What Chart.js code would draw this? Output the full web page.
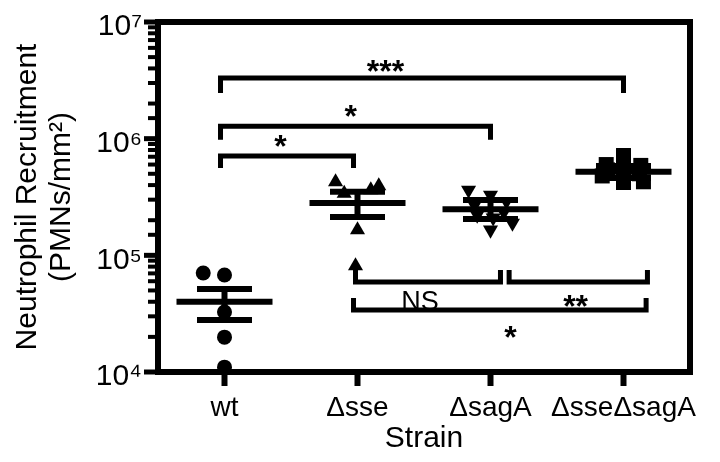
<!DOCTYPE html>
<html><head><meta charset="utf-8">
<script src="https://cdn.jsdelivr.net/npm/chart.js@4.4.1/dist/chart.umd.min.js"></script>
<style>html,body{margin:0;padding:0;background:#fff;}canvas{display:block;}</style>
</head><body>
<canvas id="c" width="720" height="462"></canvas>
<script>
const categories = ['wt', 'Δsse', 'ΔsagA', 'ΔsseΔsagA'];
const wtValues = [70600, 67800, 32700, 19900, 11000];
const wtJitter = [-0.16, 0, 0, 0, 0];
const sseValues = [425000, 393000, 363000, 340000, 165000, 81000];
const sseJitter = [-0.165, 0.16, 0.1, -0.1, 0, -0.015];
const sagAValues = [363000, 329000, 290000, 270000, 235000, 222000, 210000, 189000, 165000];
const sagAJitter = [-0.165, 0, 0.12, -0.12, 0.1, -0.1, 0.02, 0.165, 0];
const dblValues = [717000, 600000, 590000, 560000, 540000, 500000, 479000, 427000, 421000];
const dblJitter = [0, -0.13, 0.13, 0, -0.12, 0.12, -0.16, 0.15, 0];
const groupMeans = [40000, 281000, 248000, 521000];
const semUpper = [51400, 351000, 298000, 583000];
const semLower = [27900, 213000, 205000, 460000];
const yTickValues = [1e4, 1e5, 1e6, 1e7];
const yTickLabels = ['10⁴', '10⁵', '10⁶', '10⁷'];
const bracketFrom = [-0.03, -0.03, -0.03, 0.985, 2.14, 0.97];
const bracketTo = [3.0, 2.0, 0.97, 2.075, 3.18, 3.17];
const bracketLevel = [3.31e6, 1.28e6, 7.1e5, 5.9e4, 5.9e4, 3.4e4];
const bracketEnd = [2.46e6, 9.8e5, 5.6e5, 7.48e4, 7.48e4, 4.3e4];
const bracketText = ['***', '*', '*', 'NS', '**', '*'];
const bracketTextX = [1.21, 0.95, 0.42, 1.47, 2.64, 2.15];
const bracketTextY = [3.06e6, 1.26e6, 7.0e5, 3.4e4, 2.96e4, 1.6e4];

const FONT = '"Liberation Sans", Arial, Helvetica, sans-serif';
Chart.defaults.font.family = FONT;
Chart.defaults.color = '#000';

function pts(vals, jit, idx) { return vals.map((v, i) => ({x: idx + jit[i], y: v})); }

function isMajor(v) { const e = Math.log10(v); return Math.abs(e - Math.round(e)) < 1e-6; }

const decor = {
  id: 'decor',
  afterDatasetsDraw(chart) {
    const {ctx, chartArea: a, scales: {x, y}} = chart;
    const line = (x1, y1, x2, y2) => { ctx.beginPath(); ctx.moveTo(x1, y1); ctx.lineTo(x2, y2); ctx.stroke(); };
    ctx.save();
    ctx.strokeStyle = '#000'; ctx.fillStyle = '#000'; ctx.lineCap = 'butt'; ctx.lineJoin = 'miter';
    groupMeans.forEach((m, i) => {
      const px = x.getPixelForValue(i);
      const pm = y.getPixelForValue(m), pu = y.getPixelForValue(semUpper[i]), pl = y.getPixelForValue(semLower[i]);
      ctx.lineWidth = 6;
      line(px - 48, pm, px + 48, pm);
      line(px - 27.5, pu, px + 27.5, pu);
      line(px - 27.5, pl, px + 27.5, pl);
      line(px, pu, px, pl);
    });
    ctx.lineWidth = 6;
    ctx.strokeRect(a.left, a.top, a.right - a.left, a.bottom - a.top);
    y.ticks.forEach(t => {
      const py = y.getPixelForValue(t.value);
      const mj = isMajor(t.value);
      ctx.lineWidth = mj ? 5 : 4;
      line(a.left - (mj ? 14 : 10), py, a.left, py);
    });
    categories.forEach((c, i) => {
      const px = x.getPixelForValue(i);
      ctx.lineWidth = 6;
      line(px, a.bottom, px, a.bottom + 14);
    });
    ctx.lineWidth = 5;
    bracketFrom.forEach((f, i) => {
      const x1 = x.getPixelForValue(f), x2 = x.getPixelForValue(bracketTo[i]);
      const yl = y.getPixelForValue(bracketLevel[i]), ye = y.getPixelForValue(bracketEnd[i]);
      ctx.beginPath(); ctx.moveTo(x1, ye); ctx.lineTo(x1, yl); ctx.lineTo(x2, yl); ctx.lineTo(x2, ye); ctx.stroke();
    });
    ctx.textAlign = 'center'; ctx.textBaseline = 'alphabetic';
    bracketText.forEach((t, i) => {
      ctx.font = (t === 'NS' ? '27px ' : 'bold 32px ') + FONT;
      ctx.fillText(t, x.getPixelForValue(bracketTextX[i]), y.getPixelForValue(bracketTextY[i]));
    });
    ctx.restore();
  }
};

new Chart(document.getElementById('c'), {
  type: 'scatter',
  data: {
    datasets: [
      {data: pts(wtValues, wtJitter, 0), pointStyle: 'circle', pointRadius: 7.5, backgroundColor: '#000', borderWidth: 0},
      {data: pts(sseValues, sseJitter, 1), pointStyle: 'triangle', pointRadius: 8.7, backgroundColor: '#000', borderWidth: 0},
      {data: pts(sagAValues, sagAJitter, 2), pointStyle: 'triangle', rotation: 180, pointRadius: 8.7, backgroundColor: '#000', borderWidth: 0},
      {data: pts(dblValues, dblJitter, 3), pointStyle: 'rect', pointRadius: 10.6, backgroundColor: '#000', borderWidth: 0}
    ]
  },
  options: {
    responsive: false, animation: false, devicePixelRatio: 1,
    layout: {padding: {top: 22, right: 30, left: 0, bottom: 0}},
    plugins: {legend: {display: false}, tooltip: {enabled: false}},
    scales: {
      x: {
        type: 'linear', min: -0.5, max: 3.5,
        afterFit: s => { s.height = 90; s.paddingLeft = 0; s.paddingRight = 0; },
        afterBuildTicks: s => { s.ticks = categories.map((c, i) => ({value: i})); },
        grid: {display: false}, border: {display: false},
        ticks: {padding: 11, font: {size: 28}, color: '#000', maxRotation: 0, autoSkip: false,
          callback: v => categories[v] ?? ''},
        title: {display: true, text: 'Strain', font: {size: 30}, color: '#000', padding: {top: 0, bottom: 5}}
      },
      y: {
        type: 'logarithmic', min: 1e4, max: 1e7,
        afterFit: s => { s.width = 158; s.paddingTop = 0; s.paddingBottom = 0; },
        grid: {display: false}, border: {display: false},
        ticks: {autoSkip: false, padding: 8, labelOffset: 5, font: {size: 30}, color: '#000',
          callback: v => { const k = yTickValues.findIndex(t => Math.abs(t - v) / t < 1e-6); return k >= 0 ? yTickLabels[k] : ''; }},
        title: {display: true, text: ['Neutrophil Recruitment', '(PMNs/mm²)'], font: {size: 30, lineHeight: 1.13}, color: '#000', padding: {top: 11, bottom: 0}}
      }
    }
  },
  plugins: [decor]
});
</script>
</body></html>
